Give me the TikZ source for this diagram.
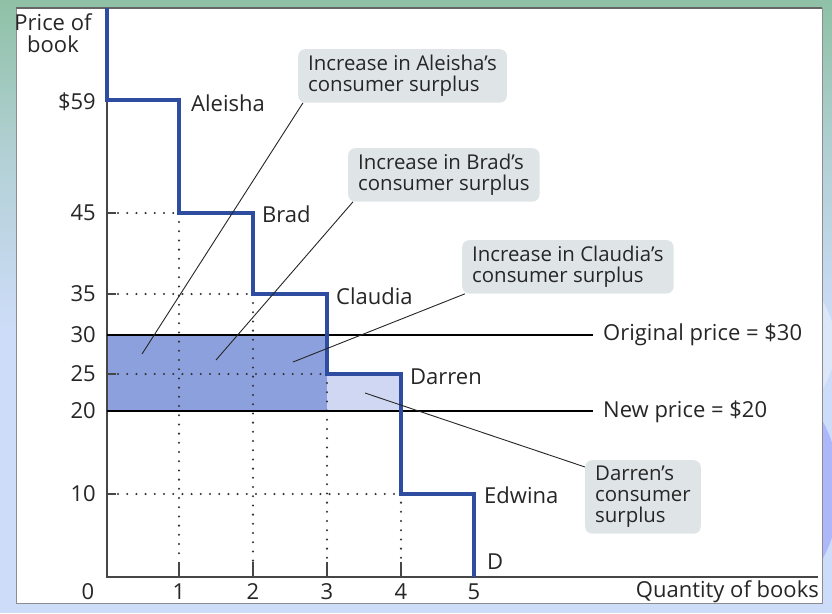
\documentclass[tikz,border=0pt]{standalone}
\usepackage{fontspec}
\setmainfont{Open Sans}
\usetikzlibrary{calc}
\definecolor{curveblue}{RGB}{46,76,160}
\definecolor{darkfill}{RGB}{140,160,221}
\definecolor{lightfill}{RGB}{208,215,242}
\definecolor{callfill}{RGB}{223,229,231}
\definecolor{bgtop}{RGB}{143,193,166}
\definecolor{bgbot}{RGB}{205,220,248}
\definecolor{axisgray}{RGB}{70,70,70}
\tikzset{
  lbl/.style={font=\fontsize{22}{22}\selectfont, inner sep=0pt, text=black!85},
  callout/.style={font=\fontsize{20.4}{21}\selectfont, align=left, fill=callfill, rounded corners=7pt, inner xsep=10pt, inner ysep=6pt, anchor=north west, text=black!85},
  demand/.style={curveblue, line width=3.6pt, line join=miter},
  priceline/.style={black, line width=2.2pt},
  guide/.style={black!80, line width=2.3pt, dash pattern=on 0pt off 9.2pt, line cap=round},
  leader/.style={black!85, line width=0.9pt},
  axisline/.style={axisgray, line width=1.1pt},
}
\begin{document}
\begin{tikzpicture}[x=1pt,y=-1pt]
\useasboundingbox (0,0) rectangle (832,613);
% slide background
\shade[top color=bgtop, bottom color=bgbot, middle color=bgbot!60!bgtop] (0,0) rectangle (832,330);
\fill[bgbot] (0,330) rectangle (832,613);
\fill[bgbot!70!white] (822,300) .. controls (840,330) and (840,360) .. (822,390) -- cycle;
\fill[bgbot!80!blue!90!white] (822,420) .. controls (845,460) and (845,520) .. (822,560) -- cycle;
% white panel
\fill[white] (16,8) rectangle (822,603);
\draw[black!45, line width=0.8pt] (16,8) rectangle (822,603);
\draw[black!60, line width=1.2pt] (16,8) -- (822,8);

% coordinates
\coordinate (O) at (107,577);
% shaded areas
\fill[darkfill] (107,335) rectangle (327,411);
\fill[lightfill] (327,374) rectangle (401,411);

% guides (dotted)
\draw[guide] (118,213) -- (179,213);
\draw[guide] (118,294) -- (253,294);
\draw[guide] (118,374) -- (327,374);
\draw[guide] (118,494) -- (401,494);
\draw[guide] (179,222) -- (179,562);
\draw[guide] (253,303) -- (253,562);
\draw[guide] (327,383) -- (327,562);
\draw[guide] (401,383) -- (401,562);
% ticks
\foreach \yy in {213,294,374,494} \draw[axisline] (107,\yy) -- (116,\yy);
\foreach \xx in {179,253,327,401} \draw[axisline] (\xx,577) -- (\xx,562);

% axes
\draw[axisline] (107,8) -- (O) -- (818,577);

% price lines
\node[lbl, anchor=west] (orig) at (603,335) {Original price = \$30};
\node[lbl, anchor=west] (newp) at (603,412) {New price = \$20};
\coordinate (p30) at (107,335);
\coordinate (p20) at (107,411);
\draw[priceline] (p30) -- (593,335);
\draw[priceline] (p20) -- (593,411);

% demand curve
\draw[demand] (107,8) -- (107,100) -- (179,100) -- (179,213) -- (253,213) -- (253,294)
  -- (327,294) -- (327,374) -- (401,374) -- (401,494) -- (474,494) -- (474,577);

% curve labels
\node[lbl, anchor=west] (aleisha) at (191,103) {Aleisha};
\node[lbl, anchor=west] (brad) at (262,214) {Brad};
\node[lbl, anchor=west] (claudia) at (336,296) {Claudia};
\node[lbl, anchor=west] (darren) at (410,377) {Darren};
\node[lbl, anchor=west] (edwina) at (484,495) {Edwina};
\node[lbl, anchor=west] (dlab) at (487,562) {D};

% axis labels
\node[lbl, align=center] (ylab) at (53,33) {Price of\\book};
\node[lbl, anchor=east] (y59) at (96,102) {\$59};
\node[lbl, anchor=east] (y45) at (96,213) {45};
\node[lbl, anchor=east] (y35) at (96,294) {35};
\node[lbl, anchor=east] (y30) at (96,335) {30};
\node[lbl, anchor=east] (y25) at (96,374) {25};
\node[lbl, anchor=east] (y20) at (96,411) {20};
\node[lbl, anchor=east] (y10) at (96,494) {10};
\node[lbl] (x0) at (88,592) {0};
\node[lbl] (x1) at (179,592) {1};
\node[lbl] (x2) at (253,592) {2};
\node[lbl] (x3) at (327,592) {3};
\node[lbl] (x4) at (401,592) {4};
\node[lbl] (x5) at (474,592) {5};
\node[lbl, anchor=east] (xlab) at (819,592) {Quantity of books};

% callouts
\node[callout] (c1) at (298,49) {Increase in Aleisha’s\\consumer surplus};
\node[callout] (c2) at (348,148) {Increase in Brad’s\\consumer surplus};
\node[callout] (c3) at (462,240) {Increase in Claudia’s\\consumer surplus};
\node[callout] (c4) at (585,460) {Darren’s\\consumer\\surplus};

\coordinate (e1) at (142,354);
\coordinate (e2) at (216,360);
\coordinate (e3) at (293,362);
\coordinate (e4) at (365,393);
\draw[leader] ([xshift=5pt]c1.south west) -- (e1);
\draw[leader] ([xshift=5pt]c2.south west) -- (e2);
\draw[leader] ([xshift=3pt]c3.south west) -- (e3);
\draw[leader] ([yshift=-7pt]c4.north west) -- (e4);
\end{tikzpicture}
\end{document}
